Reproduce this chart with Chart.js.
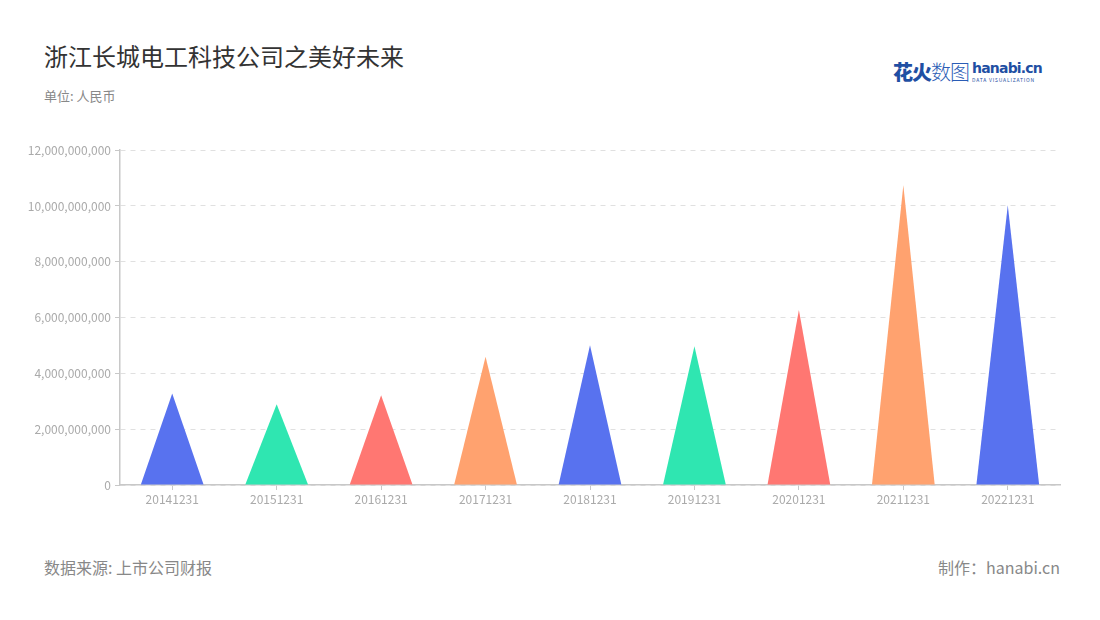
<!DOCTYPE html>
<html>
<head>
<meta charset="utf-8">
<script src="https://cdn.jsdelivr.net/npm/chart.js@4"></script>
<style>
    body { margin: 0; background: #fff; font-family: "Noto Sans CJK SC", "Noto Sans", sans-serif; }
    #page { position: relative; width: 1100px; height: 620px; overflow: hidden; }
    .title { position: absolute; left: 44px; top: 38px; font-size: 24px; color: #333; }
    .unit { position: absolute; left: 44px; top: 86px; font-size: 13px; color: #888; }
    .source { position: absolute; left: 44px; top: 555px; font-size: 16px; color: #888; }
    .maker { position: absolute; right: 40px; top: 555px; font-size: 16px; color: #888; }
    .logo { position: absolute; left: 893px; top: 57px; height: 26px; white-space: nowrap; }
    .logo .cn { font-size: 20px; font-weight: 900; color: #1f4fa3; letter-spacing: -1px; vertical-align: top; }
    .logo .cn2 { font-weight: 300; color: #2a5cb5; }
    .logo .en { display: inline-block; vertical-align: top; margin-left: 3px; line-height: 1; }
    .logo .en b { display: block; font-family: "DejaVu Sans", sans-serif; font-size: 14px; color: #1f4fa3; letter-spacing: -0.8px; margin-top: 4px; }
    .logo .en i { display: block; font-style: normal; font-size: 5px; color: #1f4fa3; letter-spacing: 0.8px; margin-top: 2px; }
    #chartBox { position: absolute; left: 20px; top: 139px; width: 1060px; height: 381px; }
</style>
</head>
<body>
<div id="page">
    <div class="title">浙江长城电工科技公司之美好未来</div>
    <div class="unit">单位: 人民币</div>
    <div class="logo"><span class="cn">花火<span class="cn2">数图</span></span><span class="en"><b>hanabi.cn</b><i>DATA VISUALIZATION</i></span></div>
    <div id="chartBox"><canvas id="chart"></canvas></div>
    <div class="source">数据来源: 上市公司财报</div>
    <div class="maker">制作：hanabi.cn</div>
</div>
<script>
// data
const years = ['20141231', '20151231', '20161231', '20171231', '20181231', '20191231', '20201231', '20211231', '20221231'];
const values = [3280000000, 2890000000, 3220000000, 4600000000, 5010000000, 4970000000, 6270000000, 10740000000, 10030000000];
const yTicks = [0, 2000000000, 4000000000, 6000000000, 8000000000, 10000000000, 12000000000];
const palette = ['#5872ef', '#2fe6b1', '#ff7772', '#ffa26f'];

// draw each bar as a triangle (base = bar width, apex = bar top)
const trianglePlugin = {
    id: 'triangles',
    beforeDatasetDraw(chart, args) {
        const ctx = chart.ctx;
        const meta = args.meta;
        const colors = chart.data.datasets[args.index].backgroundColor;
        meta.data.forEach((bar, i) => {
            const { x, y, base, width } = bar.getProps(['x', 'y', 'base', 'width'], true);
            ctx.save();
            ctx.fillStyle = colors[i];
            ctx.beginPath();
            ctx.moveTo(x - width / 2, base);
            ctx.lineTo(x, y);
            ctx.lineTo(x + width / 2, base);
            ctx.closePath();
            ctx.fill();
            ctx.restore();
        });
        return false;
    }
};

const ctx = document.getElementById('chart').getContext('2d');
new Chart(ctx, {
    type: 'bar',
    data: {
        labels: years,
        datasets: [{
            data: values,
            backgroundColor: years.map((_, i) => palette[i % palette.length]),
            barPercentage: 0.75,
            categoryPercentage: 0.8
        }]
    },
    options: {
        responsive: true,
        maintainAspectRatio: false,
        animation: false,
        layout: { padding: { top: 10, right: 20, left: 0, bottom: 0 } },
        plugins: {
            legend: { display: false },
            tooltip: { enabled: false }
        },
        scales: {
            x: {
                afterFit: scale => { scale.height = 35; },
                grid: { display: true, drawOnChartArea: false, offset: false, tickLength: 5, tickColor: '#c8c8c8' },
                border: { color: '#c8c8c8', width: 1.5 },
                ticks: { color: '#aaa', font: { size: 12, family: 'Noto Sans CJK SC' }, padding: 2 }
            },
            y: {
                min: 0,
                max: 12000000000,
                afterFit: scale => { scale.width = 100; },
                afterBuildTicks: scale => { scale.ticks = yTicks.map(v => ({ value: v })); },
                grid: { color: '#e0e0e0', tickLength: 5, tickColor: '#c8c8c8', tickBorderDash: [] },
                border: { color: '#c8c8c8', width: 1.5, dash: [5, 5] },
                ticks: {
                    color: '#aaa',
                    font: { size: 12, family: 'Noto Sans CJK SC' },
                    padding: 4,
                    callback: v => v.toLocaleString('en-US')
                }
            }
        }
    },
    plugins: [trianglePlugin]
});
</script>
</body>
</html>
